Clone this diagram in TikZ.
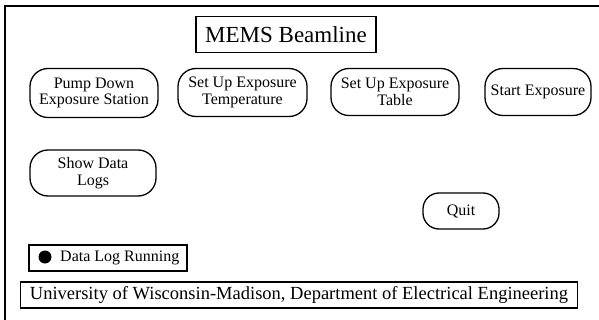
\documentclass[tikz,border=0pt]{standalone}
\usepackage{fontspec}
\setmainfont{Liberation Serif}
\begin{document}
\begin{tikzpicture}[x=1pt,y=-1pt,
  btn/.style={draw, line width=1.3pt, rounded corners=18pt, align=center, inner sep=0pt,
    font=\fontsize{16}{16.5}\selectfont},
  plainbox/.style={draw, line width=1.2pt, inner sep=0pt},
  frameline/.style={line width=2.2pt}]
\useasboundingbox (0,0) rectangle (599,320);
\coordinate (fbl) at (5,320);
\coordinate (ftl) at (5,6);
\coordinate (ftr) at (599,6);
\draw[frameline] (fbl) -- (ftl) -- (ftr);
\node[plainbox, minimum width=180pt, minimum height=36pt, font=\fontsize{23}{26}\selectfont] (title) at (286,34.5) {MEMS Beamline};
\node[btn, minimum width=128pt, minimum height=49pt] (pump) at (94,93) {Pump Down\\Exposure Station};
\node[btn, minimum width=129pt, minimum height=48pt] (temp) at (242.5,92.5) {Set Up Exposure\\Temperature};
\node[btn, minimum width=128pt, minimum height=47pt] (table) at (395,92) {Set Up Exposure\\Table};
\node[btn, minimum width=106pt, minimum height=47pt] (start) at (538,92) {Start Exposure};
\node[btn, minimum width=126pt, minimum height=46pt] (show) at (93,173) {Show Data\\Logs};
\node[btn, minimum width=76pt, minimum height=36pt, rounded corners=16pt] (quit) at (461,211) {Quit};
\node[plainbox, minimum width=158pt, minimum height=26pt] (logbox) at (108,258) {};
\node[circle, fill=black, minimum size=13pt, inner sep=0pt] (dot) at (45,257) {};
\node[anchor=west, inner sep=0pt, font=\fontsize{16}{18}\selectfont] (logtxt) at (60,258) {Data Log Running};
\node[plainbox, minimum width=557pt, minimum height=26pt, font=\fontsize{18.5}{20}\selectfont] (uni) at (299,295) {University of Wisconsin-Madison, Department of Electrical Engineering};
\end{tikzpicture}
\end{document}
